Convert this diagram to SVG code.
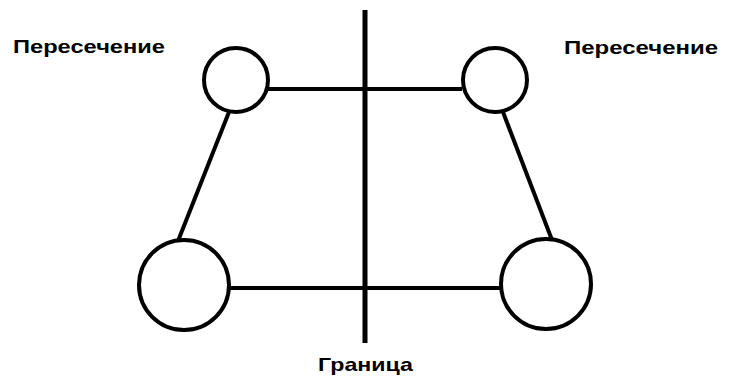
<svg xmlns="http://www.w3.org/2000/svg" width="729" height="381" viewBox="0 0 729 381">
<style>
.n{fill:none;stroke:#000;stroke-width:4}
.c{stroke:#000;stroke-width:4;fill:none}
.t{font-family:"Liberation Sans",Arial,sans-serif;font-weight:bold;font-size:19px;fill:#000}
</style>
<rect width="729" height="381" fill="#fff"/>
<g id="connectors">
<line class="c" x1="268" y1="89" x2="462" y2="89" stroke-width="3"/>
<line class="c" x1="229" y1="112" x2="178" y2="241"/>
<line class="c" x1="503" y1="112" x2="552" y2="240"/>
<line class="c" x1="229" y1="288" x2="501" y2="288"/>
</g>
<g id="boundary">
<line x1="365" y1="10" x2="365" y2="343" stroke="#000" stroke-width="5"/>
</g>
<g id="n1"><circle class="n" cx="236" cy="80" r="32"/></g>
<g id="n2"><circle class="n" cx="495" cy="80" r="32"/></g>
<g id="n3"><circle class="n" cx="184" cy="285" r="45"/></g>
<g id="n4"><circle class="n" cx="546" cy="284" r="45"/></g>
<g id="labels">
<text class="t" x="13" y="53" textLength="152" lengthAdjust="spacingAndGlyphs">Пересечение</text>
<text class="t" x="564" y="54" textLength="154" lengthAdjust="spacingAndGlyphs">Пересечение</text>
<text class="t" x="318" y="371" textLength="95" lengthAdjust="spacingAndGlyphs">Граница</text>
</g>
</svg>
